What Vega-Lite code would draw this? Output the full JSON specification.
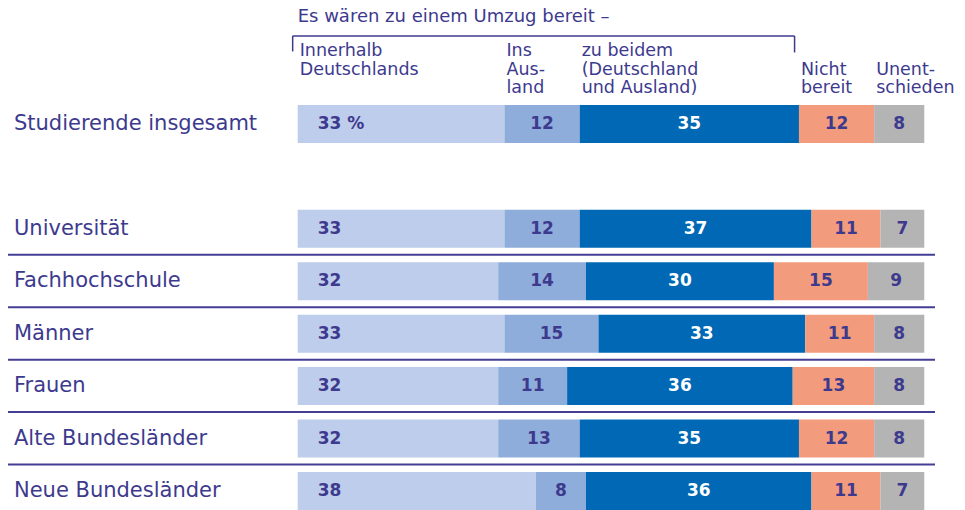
{
  "$schema": "https://vega.github.io/schema/vega-lite/v6.json",
  "width": 927,
  "height": 510,
  "autosize": {"type": "none"},
  "padding": {"left": 8, "top": 0, "right": 30, "bottom": 0},
  "config": {"view": {"stroke": null}, "text": {"font": "DejaVu Sans"}},
  "datasets": {
    "main": [
      {"category": "Studierende insgesamt", "group": "Innerhalb Deutschlands", "order": 1, "value": 33, "label": "33 %"},
      {"category": "Studierende insgesamt", "group": "Ins Ausland", "order": 2, "value": 12, "label": "12"},
      {"category": "Studierende insgesamt", "group": "zu beidem (Deutschland und Ausland)", "order": 3, "value": 35, "label": "35"},
      {"category": "Studierende insgesamt", "group": "Nicht bereit", "order": 4, "value": 12, "label": "12"},
      {"category": "Studierende insgesamt", "group": "Unentschieden", "order": 5, "value": 8, "label": "8"},
      {"category": "Universität", "group": "Innerhalb Deutschlands", "order": 1, "value": 33, "label": "33"},
      {"category": "Universität", "group": "Ins Ausland", "order": 2, "value": 12, "label": "12"},
      {"category": "Universität", "group": "zu beidem (Deutschland und Ausland)", "order": 3, "value": 37, "label": "37"},
      {"category": "Universität", "group": "Nicht bereit", "order": 4, "value": 11, "label": "11"},
      {"category": "Universität", "group": "Unentschieden", "order": 5, "value": 7, "label": "7"},
      {"category": "Fachhochschule", "group": "Innerhalb Deutschlands", "order": 1, "value": 32, "label": "32"},
      {"category": "Fachhochschule", "group": "Ins Ausland", "order": 2, "value": 14, "label": "14"},
      {"category": "Fachhochschule", "group": "zu beidem (Deutschland und Ausland)", "order": 3, "value": 30, "label": "30"},
      {"category": "Fachhochschule", "group": "Nicht bereit", "order": 4, "value": 15, "label": "15"},
      {"category": "Fachhochschule", "group": "Unentschieden", "order": 5, "value": 9, "label": "9"},
      {"category": "Männer", "group": "Innerhalb Deutschlands", "order": 1, "value": 33, "label": "33"},
      {"category": "Männer", "group": "Ins Ausland", "order": 2, "value": 15, "label": "15"},
      {"category": "Männer", "group": "zu beidem (Deutschland und Ausland)", "order": 3, "value": 33, "label": "33"},
      {"category": "Männer", "group": "Nicht bereit", "order": 4, "value": 11, "label": "11"},
      {"category": "Männer", "group": "Unentschieden", "order": 5, "value": 8, "label": "8"},
      {"category": "Frauen", "group": "Innerhalb Deutschlands", "order": 1, "value": 32, "label": "32"},
      {"category": "Frauen", "group": "Ins Ausland", "order": 2, "value": 11, "label": "11"},
      {"category": "Frauen", "group": "zu beidem (Deutschland und Ausland)", "order": 3, "value": 36, "label": "36"},
      {"category": "Frauen", "group": "Nicht bereit", "order": 4, "value": 13, "label": "13"},
      {"category": "Frauen", "group": "Unentschieden", "order": 5, "value": 8, "label": "8"},
      {"category": "Alte Bundesländer", "group": "Innerhalb Deutschlands", "order": 1, "value": 32, "label": "32"},
      {"category": "Alte Bundesländer", "group": "Ins Ausland", "order": 2, "value": 13, "label": "13"},
      {"category": "Alte Bundesländer", "group": "zu beidem (Deutschland und Ausland)", "order": 3, "value": 35, "label": "35"},
      {"category": "Alte Bundesländer", "group": "Nicht bereit", "order": 4, "value": 12, "label": "12"},
      {"category": "Alte Bundesländer", "group": "Unentschieden", "order": 5, "value": 8, "label": "8"},
      {"category": "Neue Bundesländer", "group": "Innerhalb Deutschlands", "order": 1, "value": 38, "label": "38"},
      {"category": "Neue Bundesländer", "group": "Ins Ausland", "order": 2, "value": 8, "label": "8"},
      {"category": "Neue Bundesländer", "group": "zu beidem (Deutschland und Ausland)", "order": 3, "value": 36, "label": "36"},
      {"category": "Neue Bundesländer", "group": "Nicht bereit", "order": 4, "value": 11, "label": "11"},
      {"category": "Neue Bundesländer", "group": "Unentschieden", "order": 5, "value": 7, "label": "7"}
    ],
    "groups": [
      {"group": "Innerhalb Deutschlands", "lines": ["Innerhalb", "Deutschlands", ""]},
      {"group": "Ins Ausland", "lines": ["Ins", "Aus-", "land"]},
      {"group": "zu beidem (Deutschland und Ausland)", "lines": ["zu beidem", "(Deutschland", "und Ausland)"]},
      {"group": "Nicht bereit", "lines": ["", "Nicht", "bereit"]},
      {"group": "Unentschieden", "lines": ["", "Unent-", "schieden"]}
    ],
    "separators": [
      {"category": "Universität"},
      {"category": "Fachhochschule"},
      {"category": "Männer"},
      {"category": "Frauen"},
      {"category": "Alte Bundesländer"}
    ],
    "title": [{"text": "Es wären zu einem Umzug bereit –"}]
  },
  "layer": [
    {
      "data": {"name": "main"},
      "transform": [
        {"stack": "value", "groupby": ["category"], "sort": [{"field": "order", "order": "ascending"}], "as": ["x0", "x1"]}
      ],
      "mark": {"type": "bar"},
      "encoding": {
        "y": {"field": "category", "type": "nominal", "axis": null,
          "scale": {"domain": ["h0", "h1", "Studierende insgesamt", "gap", "Universität", "Fachhochschule", "Männer", "Frauen", "Alte Bundesländer", "Neue Bundesländer"], "paddingInner": 0.275, "paddingOuter": 0}},
        "x": {"field": "x0", "type": "quantitative", "axis": null, "scale": {"domain": [-46.23, 101.71], "nice": false, "zero": false}},
        "x2": {"field": "x1"},
        "color": {"field": "group", "type": "nominal", "legend": null,
          "scale": {"domain": ["Innerhalb Deutschlands", "Ins Ausland", "zu beidem (Deutschland und Ausland)", "Nicht bereit", "Unentschieden"],
                    "range": ["#bdcdeb", "#8eaddb", "#0068b4", "#f29b7d", "#b4b4b4"]}}
      }
    },
    {
      "data": {"name": "main"},
      "transform": [
        {"stack": "value", "groupby": ["category"], "sort": [{"field": "order", "order": "ascending"}], "as": ["x0", "x1"]},
        {"filter": "datum.order == 1"}
      ],
      "mark": {"type": "text", "align": "left", "baseline": "middle", "dx": 20, "fontSize": 17, "fontWeight": "bold", "color": "#3d3a8e"},
      "encoding": {
        "y": {"field": "category", "type": "nominal"},
        "x": {"field": "x0", "type": "quantitative"},
        "text": {"field": "label"}
      }
    },
    {
      "data": {"name": "main"},
      "transform": [
        {"stack": "value", "groupby": ["category"], "sort": [{"field": "order", "order": "ascending"}], "as": ["x0", "x1"]},
        {"filter": "datum.order > 1"},
        {"calculate": "(datum.x0 + datum.x1) / 2", "as": "mid"}
      ],
      "mark": {"type": "text", "align": "center", "baseline": "middle", "fontSize": 17, "fontWeight": "bold"},
      "encoding": {
        "y": {"field": "category", "type": "nominal"},
        "x": {"field": "mid", "type": "quantitative"},
        "text": {"field": "label"},
        "color": {"condition": {"test": "datum.order == 3", "value": "#ffffff"}, "value": "#3d3a8e"}
      }
    },
    {
      "data": {"name": "main"},
      "transform": [
        {"filter": "datum.order == 1"}
      ],
      "mark": {"type": "text", "align": "left", "baseline": "middle", "fontSize": 21, "color": "#3d3a8e"},
      "encoding": {
        "y": {"field": "category", "type": "nominal"},
        "x": {"datum": -45.28, "type": "quantitative"},
        "text": {"field": "category"}
      }
    },
    {
      "data": {"name": "main"},
      "transform": [
        {"stack": "value", "groupby": ["category"], "sort": [{"field": "order", "order": "ascending"}], "as": ["x0", "x1"]},
        {"filter": "datum.category == 'Studierende insgesamt'"},
        {"lookup": "group", "from": {"data": {"name": "groups"}, "key": "group", "fields": ["lines"]}}
      ],
      "mark": {"type": "text", "align": "left", "baseline": "middle", "fontSize": 17.5, "lineHeight": 18.5, "dx": 2, "dy": -20, "color": "#3d3a8e"},
      "encoding": {
        "y": {"datum": "h1", "type": "nominal"},
        "x": {"field": "x0", "type": "quantitative"},
        "text": {"field": "lines"}
      }
    },
    {
      "data": {"name": "title"},
      "mark": {"type": "text", "align": "left", "baseline": "middle", "fontSize": 18, "dy": -2, "color": "#3d3a8e"},
      "encoding": {
        "y": {"datum": "h0", "type": "nominal"},
        "x": {"datum": 0, "type": "quantitative"},
        "text": {"field": "text"}
      }
    },
    {
      "data": {"name": "title"},
      "mark": {"type": "rule", "color": "#3d3a8e", "strokeWidth": 1.5, "yOffset": -35.5},
      "encoding": {
        "y": {"datum": "h1", "type": "nominal"},
        "x": {"datum": -0.8, "type": "quantitative"},
        "x2": {"datum": 79.3}
      }
    },
    {
      "data": {"name": "title"},
      "mark": {"type": "rule", "color": "#3d3a8e", "strokeWidth": 1.5, "yOffset": -35.5, "y2Offset": -20},
      "encoding": {
        "y": {"datum": "h1", "type": "nominal"},
        "y2": {"datum": "h1"},
        "x": {"datum": -0.8, "type": "quantitative"}
      }
    },
    {
      "data": {"name": "title"},
      "mark": {"type": "rule", "color": "#3d3a8e", "strokeWidth": 1.5, "yOffset": -35.5, "y2Offset": -19},
      "encoding": {
        "y": {"datum": "h1", "type": "nominal"},
        "y2": {"datum": "h1"},
        "x": {"datum": 79.3, "type": "quantitative"}
      }
    },
    {
      "data": {"name": "separators"},
      "mark": {"type": "rule", "color": "#453e95", "strokeWidth": 2, "yOffset": 26},
      "encoding": {
        "y": {"field": "category", "type": "nominal"}
      }
    }
  ]
}
